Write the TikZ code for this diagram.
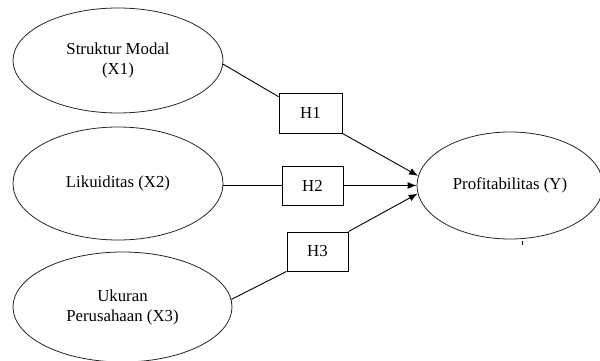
\documentclass[tikz,border=0pt]{standalone}
\usepackage{fontspec}
\setmainfont{Liberation Serif}
\usetikzlibrary{shapes.geometric,arrows.meta}
\begin{document}
\begin{tikzpicture}[x=1pt,y=-1pt,
  var/.style={draw=black!85,line width=0.8pt,ellipse,inner sep=0pt,align=center,
    font=\fontsize{16.8}{20}\selectfont},
  hyp/.style={draw,line width=0.9pt,rectangle,inner sep=0pt,
    font=\fontsize{16.8}{20}\selectfont},
  link/.style={line width=0.9pt},
  arr/.style={line width=0.9pt,-{Latex[length=9pt,width=7pt]}}]
\useasboundingbox (0,0) rectangle (600,361);
\node[var,minimum width=210pt,minimum height=105pt] (x1) at (118,60.5) {Struktur Modal\\(X1)};
\node[var,minimum width=210pt,minimum height=113pt] (x2) at (118,183.5) {Likuiditas (X2)};
\node[var,minimum width=219pt,minimum height=110pt] (x3) at (122.5,307) {Ukuran\\Perusahaan (X3)};
\node[var,minimum width=186pt,minimum height=107pt] (y) at (510,185.5) {Profitabilitas (Y)};
\node[hyp,minimum width=63pt,minimum height=40pt] (h1) at (310.5,113) {H1};
\node[hyp,minimum width=61pt,minimum height=39pt] (h2) at (312.5,185.5) {H2};
\node[hyp,minimum width=61pt,minimum height=39pt] (h3) at (317.5,251.5) {H3};
\draw[link] (x1.-2.5) -- (h1.153);
\draw[link] (h2.west -| x2.east) -- (h2.west);
\draw[link] (x3.4) -- (h3.south west);
\draw[arr] (h1.south east) -- (y.174);
\draw[arr] (h2.east) -- (y.west);
\draw[arr] (h3.north east) -- (y.185);
\coordinate (t1) at (522,241);
\coordinate (t2) at (522,245);
\draw[line width=0.6pt] (t1) -- (t2);
\end{tikzpicture}
\end{document}
